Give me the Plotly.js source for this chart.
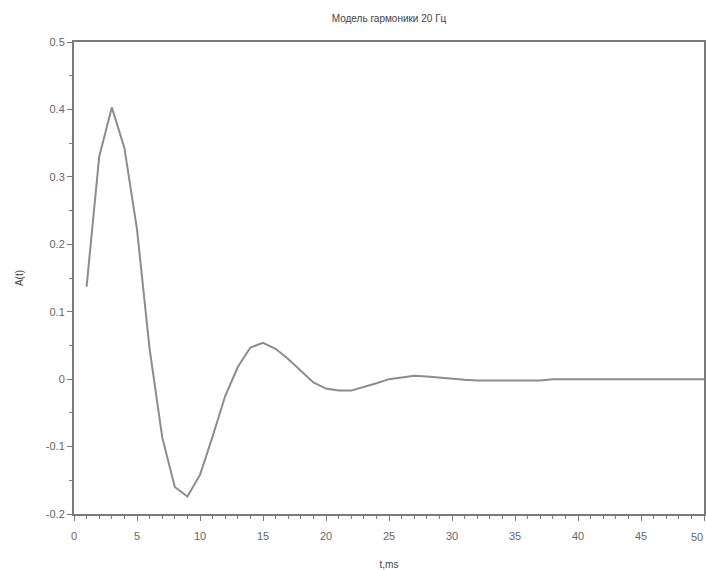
<!DOCTYPE html>
<html>
<head>
<meta charset="utf-8">
<script src="https://cdn.plot.ly/plotly-3.0.1.min.js"></script>
<style>html,body{margin:0;padding:0;background:#fff;}#chart{width:706px;height:570px;}</style>
</head>
<body>
<div id="chart"></div>
<script>
const titleText = "Модель гармоники 20 Гц";
const xLabel = "t,ms";
const yLabel = "A(t)";
const xTickVals = [0,5,10,15,20,25,30,35,40,45,50];
const xTickText = ["0","5","10","15","20","25","30","35","40","45","50"];
const yTickVals = [-0.2,-0.1,0,0.1,0.2,0.3,0.4,0.5];
const yTickText = ["-0.2","-0.1","0","0.1","0.2","0.3","0.4","0.5"];
const tValues = [1,2,3,4,5,6,7,8,9,10,11,12,13,14,15,16,17,18,19,20,21,22,23,24,25,26,27,28,29,30,31,32,33,34,35,36,37,38,39,40,41,42,43,44,45,46,47,48,49,50];
const aValues = [0.137,0.330,0.403,0.343,0.222,0.045,-0.086,-0.160,-0.174,-0.142,-0.085,-0.025,0.018,0.047,0.054,0.045,0.030,0.013,-0.005,-0.014,-0.017,-0.017,-0.012,-0.006,0.000,0.003,0.005,0.004,0.002,0.001,-0.001,-0.002,-0.002,-0.002,-0.002,-0.002,-0.002,0,0,0,0,0,0,0,0,0,0,0,0,0];

const axisColor = "#7a7a7a";
const fontFamily = "Liberation Sans, Arial, sans-serif";
const tickFont = {family: fontFamily, size: 11, color: "#666"};

const lastIdx = xTickVals.length - 1;

Plotly.newPlot("chart", [{
  x: tValues, y: aValues, type: "scatter", mode: "lines",
  line: {color: "#8c8c8c", width: 2},
  hoverinfo: "none"
}], {
  width: 706, height: 570,
  margin: {l: 74, r: 2, t: 42, b: 56},
  paper_bgcolor: "#fff", plot_bgcolor: "#fff",
  showlegend: false,
  title: {text: titleText, x: 0.551, xanchor: "center", y: 0.968, yanchor: "middle",
          font: {family: fontFamily, size: 10, color: "#444"}},
  annotations: [{
    x: xTickVals[lastIdx], y: 0, xref: "x", yref: "paper",
    text: xTickText[lastIdx], showarrow: false,
    xanchor: "right", yanchor: "top", yshift: -15, xshift: 1,
    font: tickFont
  }],
  xaxis: {
    range: [0, 50], tickvals: xTickVals, ticktext: xTickText, showgrid: false, zeroline: false,
    showline: true, linecolor: axisColor, linewidth: 2, mirror: true,
    ticks: "outside", ticklen: 5, tickcolor: axisColor, tickwidth: 1,
    ticklabelstandoff: 6,
    minor: {dtick: 1, ticks: "outside", ticklen: 3, tickcolor: axisColor, showgrid: false},
    tickfont: tickFont,
    title: {text: xLabel, font: {family: fontFamily, size: 10, color: "#444"}, standoff: 22}
  },
  yaxis: {
    range: [-0.2, 0.5], tickvals: yTickVals, ticktext: yTickText, showgrid: false, zeroline: false,
    showline: true, linecolor: axisColor, linewidth: 2, mirror: true,
    ticks: "outside", ticklen: 5, tickcolor: axisColor, tickwidth: 1,
    minor: {dtick: 0.05, ticks: "outside", ticklen: 3, tickcolor: axisColor, showgrid: false},
    tickfont: tickFont,
    title: {text: yLabel, font: {family: fontFamily, size: 10, color: "#444"}, standoff: 20}
  }
}, {displayModeBar: false, staticPlot: true});
</script>
</body>
</html>
